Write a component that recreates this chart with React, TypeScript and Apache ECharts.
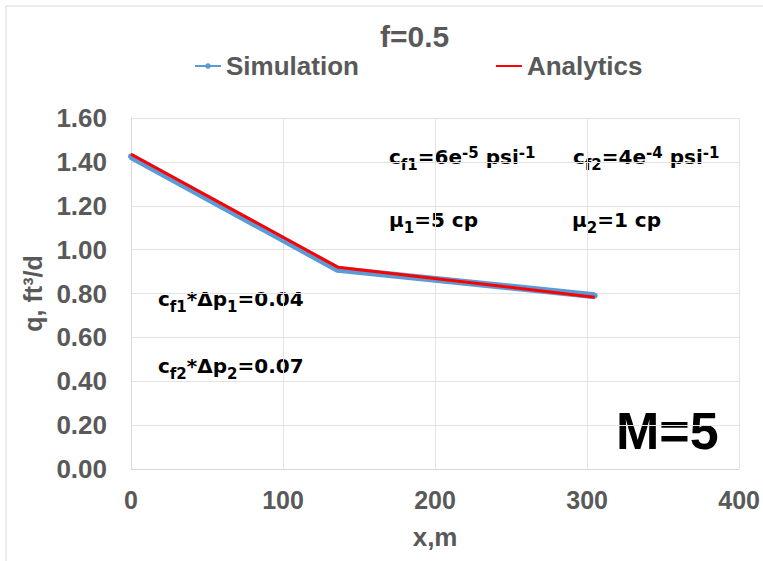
import React, { useEffect, useRef } from "react";
import * as echarts from "echarts";

const titleText = "f=0.5";
const seriesNames = ["Simulation", "Analytics"];
const simX = [0, 136, 305];
const simQ = [1.425, 0.91, 0.79];
const anaX = [0, 136, 305];
const anaQ = [1.435, 0.92, 0.783];
const xTicks = [0, 100, 200, 300, 400];
const yTicks = [0, 0.2, 0.4, 0.6, 0.8, 1.0, 1.2, 1.4, 1.6];

const GRAY = "#595959";
const ARIAL = "Arial, 'Liberation Sans', sans-serif";
const ANN_FONT = "'DejaVu Sans', sans-serif";

export default function App() {
  const ref = useRef<HTMLDivElement>(null);
  useEffect(() => {
    if (!ref.current) return;
    const chart = echarts.init(ref.current, null, { renderer: "svg" });
    const rich = {
      n: { fontSize: 20, fontWeight: "bold", fontFamily: ANN_FONT, color: "#000", lineHeight: 30, verticalAlign: "middle" },
      s: { fontSize: 15, fontWeight: "bold", fontFamily: ANN_FONT, color: "#000", lineHeight: 15, verticalAlign: "bottom" },
      p: { fontSize: 15, fontWeight: "bold", fontFamily: ANN_FONT, color: "#000", lineHeight: 15, verticalAlign: "top", padding: [3, 0, 0, 0] },
    };
    const ann = (x: number, y: number, text: string) => ({
      type: "text",
      x,
      y,
      style: { text, rich, textVerticalAlign: "top" },
    });
    chart.setOption({
      animation: false,
      backgroundColor: "#fff",
      title: {
        text: titleText,
        left: 375,
        top: 16,
        textStyle: { fontFamily: ARIAL, fontSize: 30, fontWeight: "bold", color: GRAY },
      },
      legend: {
        left: 189,
        top: 48,
        itemGap: 136,
        itemWidth: 26,
        itemHeight: 7,
        textStyle: { fontFamily: ARIAL, fontSize: 26, fontWeight: "bold", color: GRAY },
        data: [
          { name: seriesNames[0] },
          { name: seriesNames[1], itemStyle: { opacity: 0 } },
        ],
      },
      grid: { left: 131, top: 118, right: 23, bottom: 92 },
      xAxis: {
        type: "value",
        min: xTicks[0],
        max: xTicks[xTicks.length - 1],
        interval: 100,
        name: "x,m",
        nameLocation: "middle",
        nameGap: 55,
        nameTextStyle: { fontFamily: ARIAL, fontSize: 26, fontWeight: "bold", color: GRAY },
        axisLine: { show: true, lineStyle: { color: "#d9d9d9", width: 1 } },
        axisTick: { show: false },
        splitLine: { show: true, lineStyle: { color: "#e3e3e3", width: 1 } },
        axisLabel: { fontFamily: ARIAL, fontSize: 25, fontWeight: "bold", color: GRAY, margin: 18 },
      },
      yAxis: {
        type: "value",
        min: yTicks[0],
        max: yTicks[yTicks.length - 1],
        interval: 0.2,
        name: "q, ft³/d",
        nameLocation: "middle",
        nameGap: 84,
        nameTextStyle: { fontFamily: ARIAL, fontSize: 25, fontWeight: "bold", color: GRAY },
        axisLine: { show: true, lineStyle: { color: "#d9d9d9", width: 1 } },
        axisTick: { show: false },
        splitLine: { show: true, lineStyle: { color: "#e3e3e3", width: 1 } },
        axisLabel: {
          fontFamily: ARIAL,
          fontSize: 26,
          fontWeight: "bold",
          color: GRAY,
          margin: 24,
          formatter: (v: number) => v.toFixed(2),
        },
      },
      series: [
        {
          name: seriesNames[0],
          type: "line",
          data: simX.map((x, i) => [x, simQ[i]]),
          symbol: "circle",
          symbolSize: 6,
          showSymbol: true,
          itemStyle: { color: "#5B9BD5" },
          lineStyle: { color: "#5B9BD5", width: 7 },
          z: 2,
        },
        {
          name: seriesNames[1],
          type: "line",
          data: anaX.map((x, i) => [x, anaQ[i]]),
          showSymbol: false,
          symbol: "none",
          itemStyle: { color: "#FF0000" },
          lineStyle: { color: "#FF0000", width: 3 },
          z: 3,
        },
      ],
      graphic: [
        { type: "line", shape: { x1: 6, y1: 6, x2: 763, y2: 6 }, style: { stroke: "#d9d9d9", lineWidth: 1 } },
        { type: "line", shape: { x1: 6, y1: 6, x2: 6, y2: 561 }, style: { stroke: "#d9d9d9", lineWidth: 1 } },
        ann(389, 142, "{n|c}{s|f1}{n|=6e}{p|-5}{n| psi}{p|-1}"),
        ann(573, 142, "{n|c}{s|f2}{n|=4e}{p|-4}{n| psi}{p|-1}"),
        ann(389, 205, "{n|μ}{s|1}{n|=5 cp}"),
        ann(572, 205, "{n|μ}{s|2}{n|=1 cp}"),
        ann(158, 284, "{n|c}{s|f1}{n|*Δp}{s|1}{n|=0.04}"),
        ann(158, 351, "{n|c}{s|f2}{n|*Δp}{s|2}{n|=0.07}"),
        {
          type: "text",
          x: 616,
          y: 405,
          style: {
            text: "M=5",
            font: "bold 52px Arial, 'Liberation Sans', sans-serif",
            fill: "#000",
            textVerticalAlign: "top",
          },
        },
      ],
    });
    return () => chart.dispose();
  }, []);
  return <div ref={ref} style={{ position: "fixed", left: 0, top: 0, width: 763, height: 561 }} />;
}
